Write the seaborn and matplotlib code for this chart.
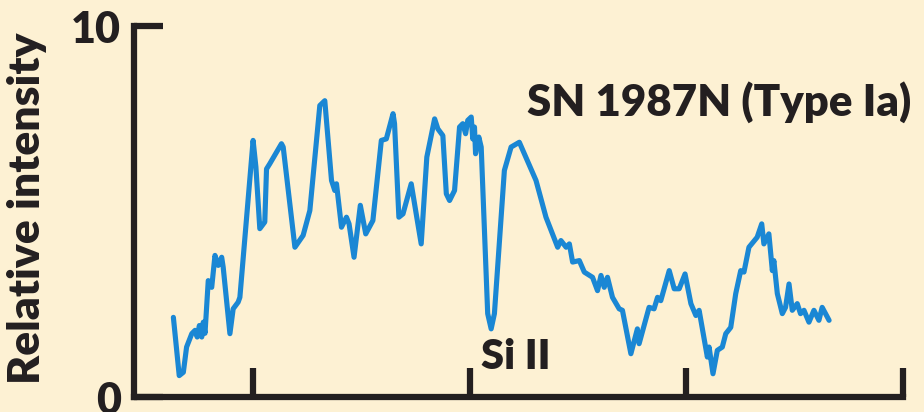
import numpy as np
import pandas as pd
import matplotlib
matplotlib.use("Agg")
import matplotlib.pyplot as plt
import seaborn as sns

# wavelength-like x positions (ticks at 4000..7000) and relative intensity
wavelength = [
    3633, 3660, 3679, 3694, 3718, 3733, 3743, 3753, 3764, 3771, 3779, 3794, 3810,
    3825, 3840, 3856, 3863, 3894, 3909, 3932, 3940, 4001, 4014, 4032, 4055, 4063,
    4078, 4132, 4140, 4194, 4232, 4263, 4309, 4332, 4363, 4378, 4386, 4409, 4432,
    4444, 4467, 4496, 4521, 4554, 4593, 4616, 4647, 4654, 4674, 4693, 4731, 4777,
    4803, 4839, 4854,
    4877, 4893, 4908, 4931, 4954, 4969, 4982, 4992, 5008, 5015, 5023, 5028, 5043,
    5054, 5084, 5100, 5115, 5161, 5192, 5230, 5307, 5353, 5407, 5422, 5446, 5461,
    5476, 5507, 5530, 5568, 5591, 5607, 5622, 5637, 5660, 5691, 5706, 5745, 5775,
    5783, 5829, 5852, 5868, 5883, 5922, 5945, 5968, 5995, 6022, 6045, 6060, 6098,
    6106, 6124, 6144, 6167, 6183, 6206, 6229, 6252, 6267, 6290, 6328, 6349, 6359,
    6382, 6398, 6405, 6421, 6444, 6459, 6475, 6490, 6513, 6528, 6544, 6567, 6590,
    6613, 6628, 6660,
]
intensity = [
    2.16, 0.59, 0.68, 1.36, 1.72, 1.81, 1.63, 1.94, 1.63, 2.03, 1.73, 3.15, 2.97,
    3.83, 3.56, 3.78, 3.51, 1.72, 2.39, 2.57, 2.70, 6.93, 6.21, 4.55, 4.73, 6.16,
    6.30, 6.84, 6.75, 4.05, 4.37, 5.04, 7.87, 8.00, 5.85, 5.58, 5.76, 4.59, 4.86,
    4.68, 3.78, 5.18, 4.41, 4.77, 6.93, 6.97, 7.65, 7.38, 4.86, 4.95, 5.76, 4.14,
    6.48, 7.51, 7.24,
    7.06, 5.49, 5.31, 5.58, 7.29, 7.38, 7.11, 7.47, 7.56, 6.97, 7.29, 6.57, 7.02,
    6.75, 2.26, 1.85, 2.26, 6.12, 6.75, 6.88, 5.85, 4.86, 4.05, 4.23, 4.05, 4.14,
    3.65, 3.69, 3.38, 3.24, 2.88, 3.29, 2.97, 3.24, 2.70, 2.39, 2.35, 1.18, 1.85,
    1.45, 2.43, 2.39, 2.70, 2.61, 3.42, 2.93, 2.93, 3.33, 2.53, 2.21, 2.35, 1.09,
    1.36, 0.64, 1.27, 1.36, 1.72, 1.89, 2.80, 3.42, 3.38, 4.05, 4.32, 4.68, 4.14,
    4.41, 3.42, 3.69, 2.80, 2.26, 2.43, 3.06, 2.35, 2.53, 2.26, 2.35, 2.03, 2.35,
    2.08, 2.43, 2.08,
]
x_ticks = [4000, 5000, 6000, 7000]
y_ticks = [0, 10]
y_tick_labels = ["0", "10"]

bg = "#fdf1d3"
ink = "#231f20"
blue = "#1a87d4"

sns.set_theme(style="white")
plt.rcParams["font.family"] = ["Lato", "DejaVu Sans"]
plt.rcParams["font.weight"] = "heavy"

df = pd.DataFrame({"wavelength": wavelength, "intensity": intensity})

fig = plt.figure(figsize=(9.24, 4.12), dpi=100, facecolor=bg)
ax = fig.add_axes([0.1445, 0.0352, 0.8325, 0.9005])
ax.set_facecolor(bg)

sns.lineplot(data=df, x="wavelength", y="intensity", ax=ax, color=blue,
             linewidth=3.7, sort=False, estimator=None)

ax.set_xlim(3449, 7000)
ax.set_ylim(0, 10)
ax.set_xticks(x_ticks)
ax.set_xticklabels([])
ax.set_yticks(y_ticks)
ax.set_yticklabels(y_tick_labels, fontsize=31, fontweight="heavy", color=ink)

for side in ["top", "right"]:
    ax.spines[side].set_visible(False)
for side in ["left", "bottom"]:
    ax.spines[side].set_color(ink)
    ax.spines[side].set_linewidth(4.5)
    ax.spines[side].set_capstyle("projecting")

ax.tick_params(axis="both", direction="in", length=21, width=4.5, color=ink,
               bottom=True, left=True)
ax.tick_params(axis="y", pad=9)

ax.set_xlabel("")
ax.set_ylabel("Relative intensity", fontsize=32, fontweight="heavy", color=ink)
ax.yaxis.set_label_coords(-0.112, 0.51)

ax.text(5267, 7.6, "SN 1987N (Type Ia)", fontsize=31.5, fontweight="heavy",
        color=ink, ha="left", va="baseline")
ax.text(5055, 0.78, "Si II", fontsize=30, fontweight="heavy",
        color=ink, ha="left", va="baseline")

fig.savefig("out.png", dpi=100, facecolor=bg)
